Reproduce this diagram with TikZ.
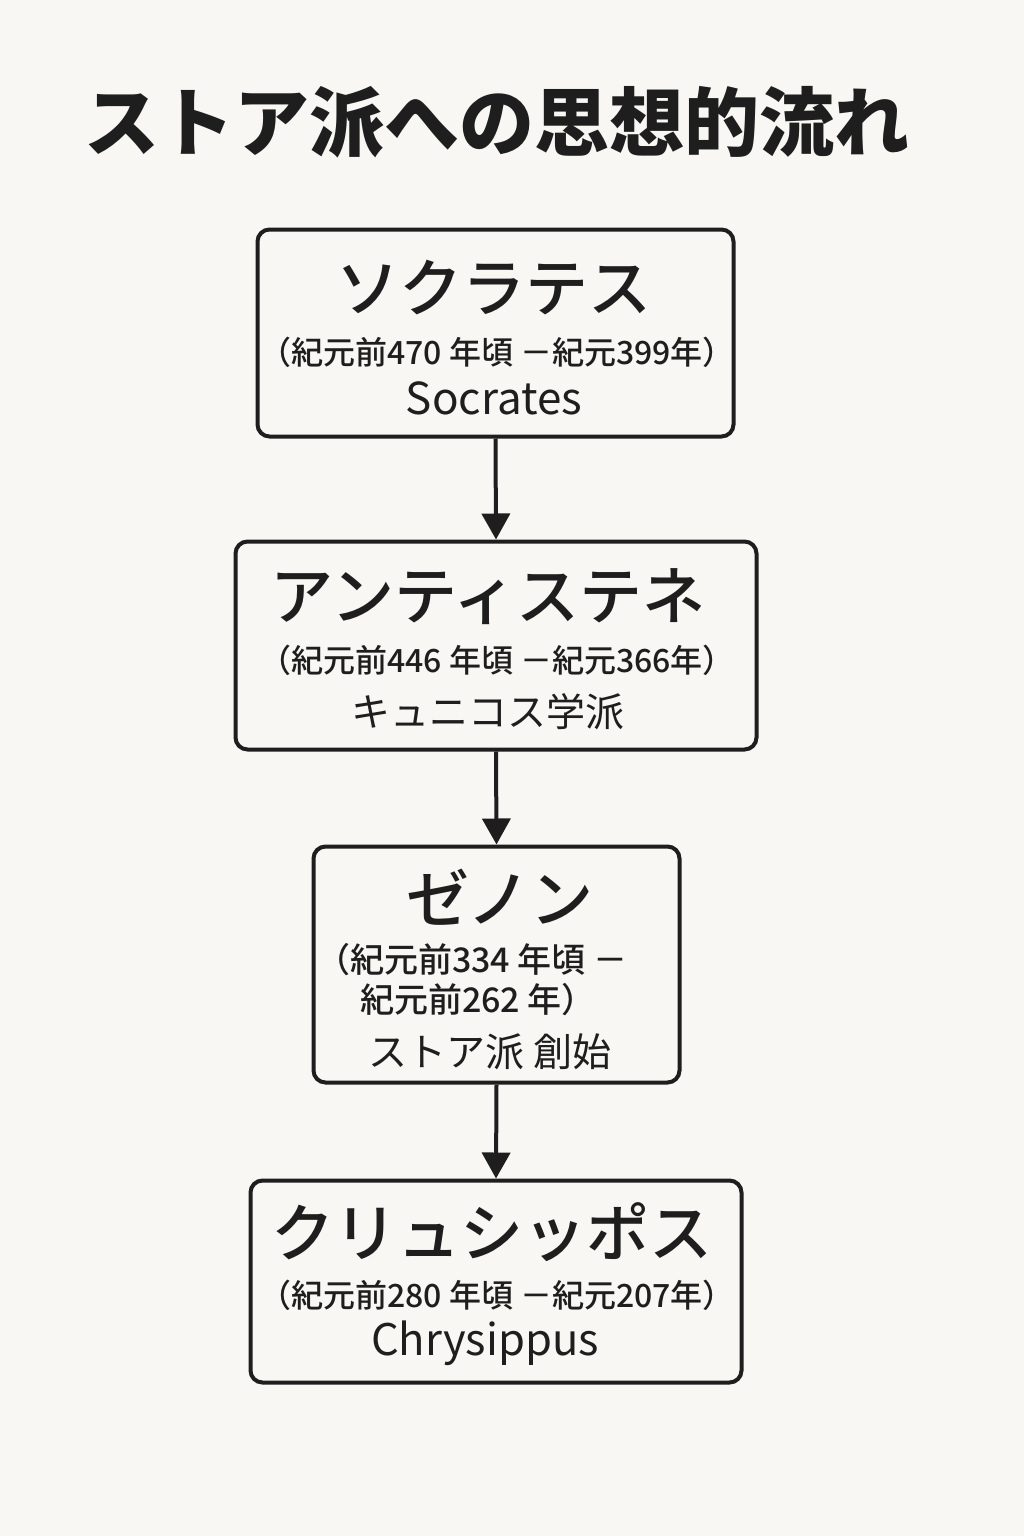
\documentclass[tikz,border=0pt]{standalone}
\usepackage{fontspec}
\setmainfont{Noto Sans CJK JP}
\newfontfamily\medfont{Noto Sans CJK JP Medium}
\usetikzlibrary{arrows.meta}
\definecolor{bg}{HTML}{F8F7F3}
\definecolor{ink}{HTML}{1E1E1E}
\begin{document}
\begin{tikzpicture}[x=1pt,y=-1pt,
  box/.style={draw=ink, line width=4pt, rounded corners=12pt, inner sep=0pt},
  ttl/.style={font=\bfseries\fontsize{75}{80}\selectfont, text=ink, inner sep=0pt},
  pname/.style={font=\medfont\fontsize{63}{70}\selectfont, text=ink, inner sep=0pt},
  dates/.style={font=\medfont\fontsize{32}{36}\selectfont, text=ink, inner sep=0pt},
  sub/.style={font=\fontsize{44}{48}\selectfont, text=ink, inner sep=0pt},
  subjp/.style={font=\fontsize{39}{43}\selectfont, text=ink, inner sep=0pt},
  flow/.style={draw=ink, line width=4pt, -{Triangle[length=26pt,width=28pt]}}]
\useasboundingbox[fill=bg] (0,0) rectangle (1024,1536);

\node[ttl] (title) at (497,122) {ストア派への思想的流れ};

\node[box, minimum width=476pt, minimum height=207pt] (b1) at (495.5,333) {};
\node[pname] (n1) at (494,288) {ソクラテス};
\node[dates] (d1) at (497,352) {（紀元前470 年頃 －紀元399年）};
\node[sub] (s1) at (494,398) {Socrates};

\node[box, minimum width=521pt, minimum height=208pt] (b2) at (496,645.5) {};
\node[pname] (n2) at (488,597) {アンティステネ};
\node[dates] (d2) at (497,660) {（紀元前446 年頃 －紀元366年）};
\node[subjp] (s2) at (488,712) {キュニコス学派};

\node[box, minimum width=366pt, minimum height=236pt] (b3) at (496.5,964.5) {};
\node[pname] (n3) at (500,897) {ゼノン};
\node[dates, font=\medfont\fontsize{34}{38}\selectfont, anchor=west] (d3a) at (316,960) {（紀元前334 年頃 －};
\node[dates, font=\medfont\fontsize{34}{38}\selectfont, anchor=west] (d3b) at (360,1000) {紀元前262 年）};
\node[subjp] (s3) at (490,1052) {ストア派 創始};

\node[box, minimum width=491pt, minimum height=202pt] (b4) at (496,1281.5) {};
\node[pname] (n4) at (492,1232) {クリュシッポス};
\node[dates] (d4) at (497,1295) {（紀元前280 年頃 －紀元207年）};
\node[sub, font=\fontsize{43.5}{48}\selectfont] (s4) at (485,1343) {Chrysippus};

\draw[flow] (b1.south) -- (b2.north);
\draw[flow] (b2.south) -- (b3.north);
\draw[flow] (b3.south) -- (b4.north);
\end{tikzpicture}
\end{document}
